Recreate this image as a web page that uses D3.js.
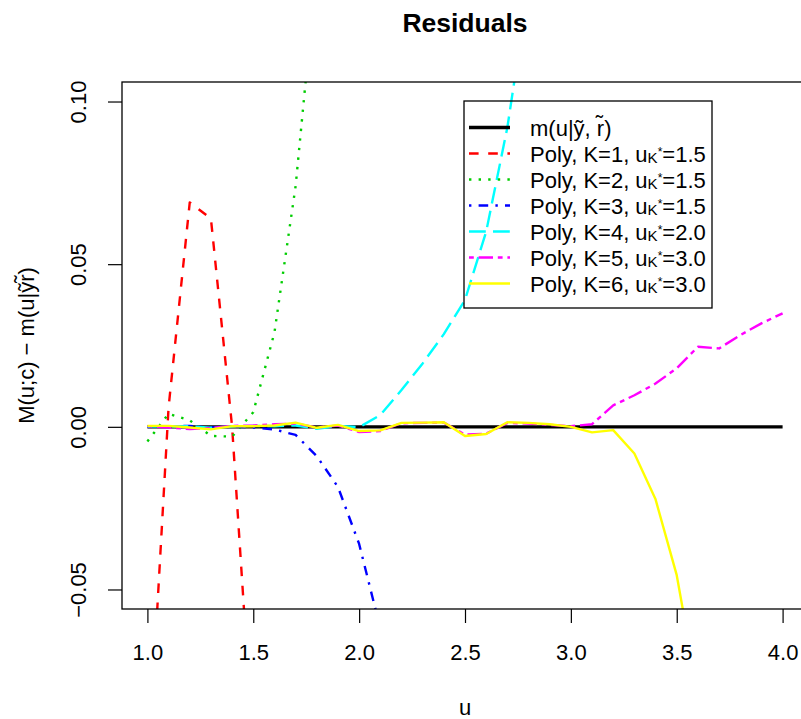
<!DOCTYPE html>
<meta charset="utf-8">
<style>
body { margin: 0; background: #fff; }
svg text { font-family: "Liberation Sans", Arial, sans-serif; fill: #000; }
.axis path.domain { display: none; }
.axis line { stroke: #000; stroke-width: 1.2; }
.series { fill: none; stroke-linejoin: round; }
</style>
<body>
<svg width="801" height="719"></svg>
<script src="https://d3js.org/d3.v7.min.js"></script>
<script>

// grid of u values (all series share it)
var u = [1.0, 1.1, 1.2, 1.3, 1.4, 1.5, 1.6, 1.7, 1.8, 1.9, 2.0,
         2.1, 2.2, 2.3, 2.4, 2.5, 2.6, 2.7, 2.8, 2.9, 3.0,
         3.1, 3.2, 3.3, 3.4, 3.5, 3.6, 3.7, 3.8, 3.9, 4.0];

// residuals (series stop once they leave the plot)
var ref = [0, 0, 0, 0, 0, 0, 0, 0, 0, 0, 0, 0, 0, 0, 0, 0,
           0, 0, 0, 0, 0, 0, 0, 0, 0, 0, 0, 0, 0, 0, 0];
var k1 = [-0.110, 0.006, 0.069, 0.064, 0.000, -0.100, -0.250];
var k2 = [-0.0045, 0.004, 0.002, -0.0028, -0.003, 0.0045, 0.029, 0.074, 0.142, 0.230];
var k3 = [0.0000, 0.0001, 0.0003, -0.0002, 0.0001, -0.0002, -0.0008, -0.0025,
          -0.0090, -0.0185, -0.0360, -0.0620, -0.100];
var k4 = [0.0001, 0.0001, 0.0002, -0.0003, 0.0001, 0.0003, 0.0002, 0.0004,
          -0.0006, 0.0003, -0.0001, 0.0036, 0.0113, 0.0195, 0.0285, 0.0390,
          0.0600, 0.0920, 0.1350];
var k5 = [0.0002, -0.0002, -0.0007, -0.0004, 0.0003, 0.0004, 0.0008, 0.0010,
          -0.0002, 0.0004, -0.0016, -0.0013, 0.0011, 0.0012, 0.0013, -0.0024,
          -0.0021, 0.0012, 0.0010, 0.0006, 0.0002, 0.0008, 0.0066, 0.0097,
          0.0133, 0.0180, 0.0246, 0.0241, 0.0282, 0.0318, 0.0349];
var k6 = [0.0003, 0.0003, -0.0002, -0.0008, 0.0002, 0.0002, 0.0004, 0.0013,
          -0.0003, 0.0006, -0.0013, -0.0011, 0.0012, 0.0013, 0.0014, -0.0028,
          -0.0022, 0.0014, 0.0012, 0.0008, 0.0000, -0.0017, -0.0010, -0.0082,
          -0.0223, -0.0456, -0.0820];

var seriesValues = [ref, k1, k2, k3, k4, k5, k6];
var seriesColors = ["#000000", "#FF0000", "#00CD00", "#0000FF", "#00FFFF", "#FF00FF", "#FFFF00"];
var seriesDash = [null, "9.6,9.6", "2.4,7.2", "2.4,7.2,9.6,7.2", "16.8,7.2", "4.8,4.8,14.4,4.8", null];
var seriesWidth = [3.4, 2.4, 2.4, 2.4, 2.4, 2.4, 2.4];

// legend parts
var polyK = [1, 2, 3, 4, 5, 6];
var polyUK = ["1.5", "1.5", "1.5", "2.0", "3.0", "3.0"];

var xTicks = [1.0, 1.5, 2.0, 2.5, 3.0, 3.5, 4.0];
var xTickLabels = ["1.0", "1.5", "2.0", "2.5", "3.0", "3.5", "4.0"];
var yTicks = [-0.05, 0.00, 0.05, 0.10];
var yTickLabels = ["\u22120.05", "0.00", "0.05", "0.10"];

var svg = d3.select("svg"),
    plot = {left: 122, right: 808, top: 82, bottom: 609};

// R-style 4% padding on the limits
var x = d3.scaleLinear().domain([0.88, 4.12]).range([plot.left, plot.right]);
var y = d3.scaleLinear().domain([-0.056, 0.106]).range([plot.bottom, plot.top]);

svg.append("clipPath").attr("id", "plotclip")
  .append("rect")
    .attr("x", plot.left).attr("y", plot.top)
    .attr("width", plot.right - plot.left).attr("height", plot.bottom - plot.top);

var line = d3.line()
    .x(function(d, i) { return x(u[i]); })
    .y(function(d) { return y(d); });

svg.append("g").attr("clip-path", "url(#plotclip)")
  .selectAll("path")
    .data(seriesValues)
  .enter().append("path")
    .attr("class", "series")
    .attr("d", line)
    .attr("stroke", function(d, i) { return seriesColors[i]; })
    .attr("stroke-width", function(d, i) { return seriesWidth[i]; })
    .attr("stroke-dasharray", function(d, i) { return seriesDash[i]; });

// box
svg.append("rect")
    .attr("x", plot.left).attr("y", plot.top)
    .attr("width", plot.right - plot.left).attr("height", plot.bottom - plot.top)
    .attr("fill", "none").attr("stroke", "#000").attr("stroke-width", 1.3);

var xAxis = svg.append("g")
    .attr("class", "axis")
    .attr("transform", "translate(0," + plot.bottom + ")")
    .call(d3.axisBottom(x)
      .tickValues(xTicks)
      .tickFormat(function(d, i) { return xTickLabels[i]; })
      .tickSize(14)
      .tickPadding(21));

xAxis.selectAll("text")
    .style("font-size", "22px")
    .style("font-family", "Liberation Sans, Arial, sans-serif");

var yAxis = svg.append("g")
    .attr("class", "axis")
    .attr("transform", "translate(" + plot.left + ",0)")
    .call(d3.axisLeft(y)
      .tickValues(yTicks)
      .tickFormat(function(d, i) { return yTickLabels[i]; })
      .tickSize(14));

yAxis.selectAll("text")
    .attr("x", 0)
    .attr("dy", 0)
    .attr("text-anchor", "middle")
    .attr("transform", "translate(-36,0) rotate(-90)")
    .style("font-size", "22px")
    .style("font-family", "Liberation Sans, Arial, sans-serif");

svg.selectAll(".axis").attr("font-size", null).attr("font-family", null);

// titles
svg.append("text")
    .attr("x", 465).attr("y", 32)
    .attr("text-anchor", "middle")
    .style("font-size", "26.5px").style("font-weight", "bold")
    .text("Residuals");

svg.append("text")
    .attr("x", 465).attr("y", 715)
    .attr("text-anchor", "middle")
    .style("font-size", "22px")
    .text("u");

svg.append("text")
    .attr("transform", "translate(34," + ((plot.top + plot.bottom) / 2) + ") rotate(-90)")
    .attr("text-anchor", "middle")
    .style("font-size", "22px")
    .text("M(u;c) \u2212 m(u|\u1EF9r\u0303)");

// legend (no fill, like R's default)
var legend = svg.append("g");
legend.append("rect")
    .attr("x", 464).attr("y", 101).attr("width", 248).attr("height", 207)
    .attr("fill", "none").attr("stroke", "#000").attr("stroke-width", 1.3);

var rowY = function(i) { return 127.5 + i * 26; };

legend.selectAll(".key")
    .data(seriesColors)
  .enter().append("line")
    .attr("x1", 469).attr("x2", 510)
    .attr("y1", function(d, i) { return rowY(i); })
    .attr("y2", function(d, i) { return rowY(i); })
    .attr("stroke", function(d) { return d; })
    .attr("stroke-width", function(d, i) { return seriesWidth[i]; })
    .attr("stroke-dasharray", function(d, i) { return seriesDash[i]; });

legend.append("text")
    .attr("x", 530).attr("y", rowY(0) + 8)
    .style("font-size", "22px")
    .text("m(u|\u1EF9, r\u0303)");

polyK.forEach(function(k, i) {
  var t = legend.append("text")
      .attr("x", 530).attr("y", rowY(i + 1) + 8)
      .style("font-size", "22px");
  t.append("tspan").text("Poly, K=" + k + ", u");
  t.append("tspan").attr("dy", 1).style("font-size", "15px").text("K");
  t.append("tspan").attr("dy", -7).style("font-size", "12px").text("*");
  t.append("tspan").attr("dy", 6).text("=" + polyUK[i]);
});

</script>
</body>
